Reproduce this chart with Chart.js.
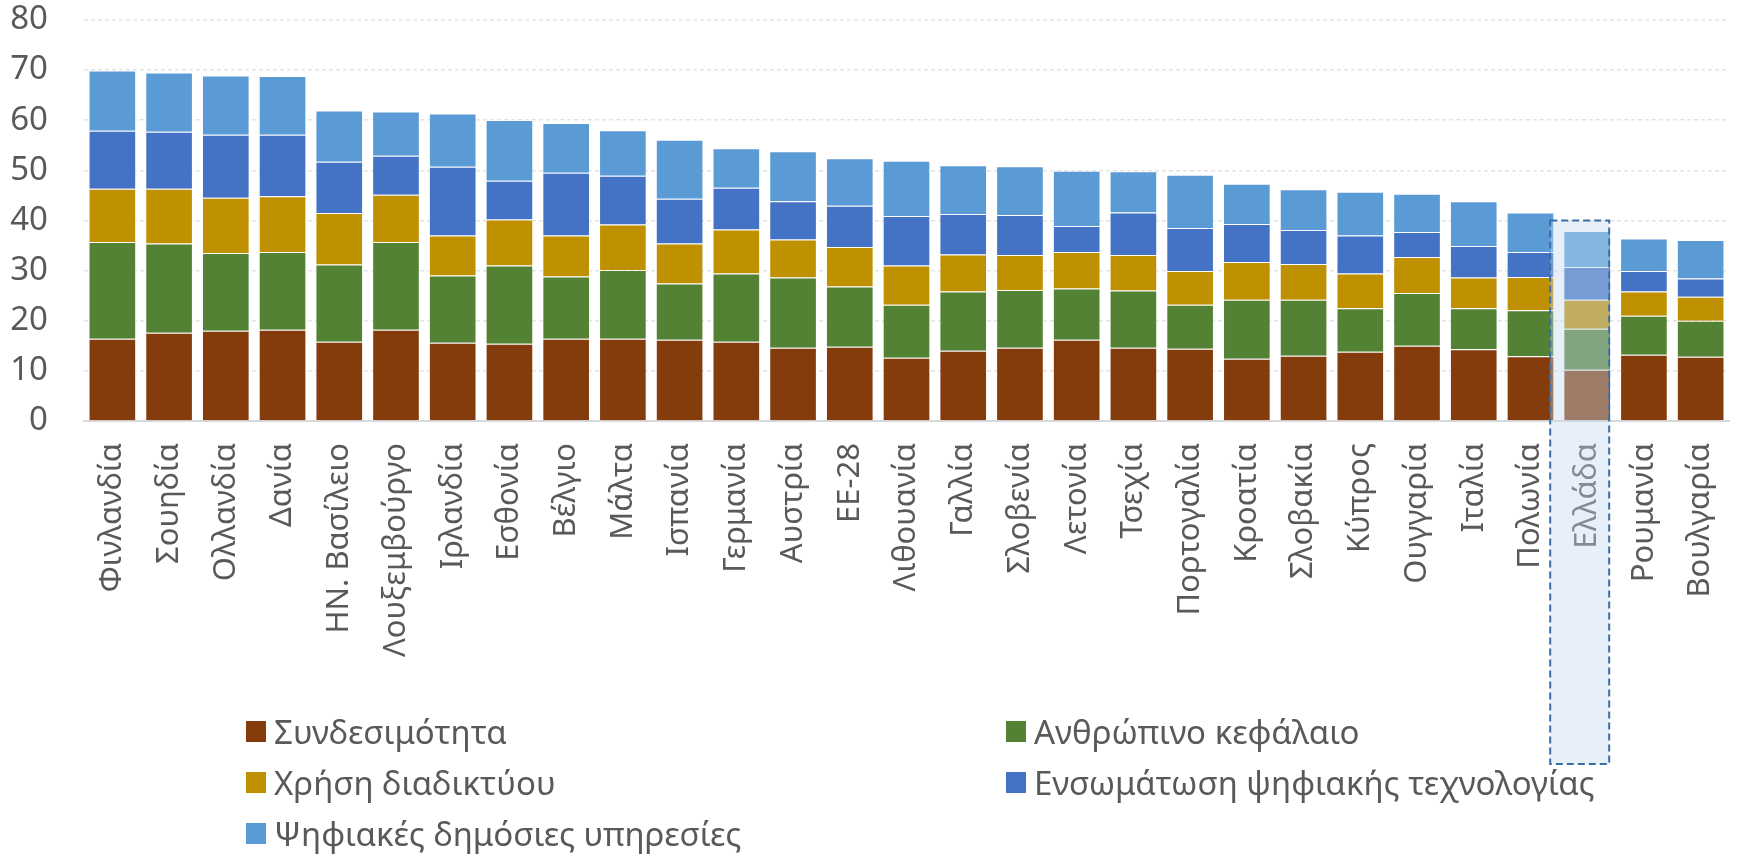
<!DOCTYPE html>
<html>
<head>
<meta charset="utf-8">
<script src="https://cdn.jsdelivr.net/npm/chart.js@4.4.1/dist/chart.umd.min.js"></script>
<style>
    html, body { margin: 0; padding: 0; background: #fff; }
    #wrap { position: relative; width: 1737px; height: 855px; overflow: hidden; }
    #chart { position: absolute; left: 0; top: -36px; }
    #legend {
        position: absolute; left: 246px; top: 712px;
        display: grid; grid-template-columns: 760px 640px; row-gap: 13px;
        font-family: "Noto Sans", "Open Sans", sans-serif;
        font-size: 33px; color: #595959;
    }
    .item { display: flex; align-items: center; height: 38px; white-space: nowrap; }
    .swatch { width: 20px; height: 21px; margin-right: 8px; }
</style>
</head>
<body>
<div id="wrap">
    <canvas id="chart" width="1760" height="891"></canvas>
    <div id="legend"></div>
</div>
<script>
// Countries, sorted by total DESI score
const countries = ['Φινλανδία', 'Σουηδία', 'Ολλανδία', 'Δανία', 'ΗΝ. Βασίλειο', 'Λουξεμβούργο', 'Ιρλανδία',
    'Εσθονία', 'Βέλγιο', 'Μάλτα', 'Ισπανία', 'Γερμανία', 'Αυστρία', 'ΕΕ-28', 'Λιθουανία', 'Γαλλία',
    'Σλοβενία', 'Λετονία', 'Τσεχία', 'Πορτογαλία', 'Κροατία', 'Σλοβακία', 'Κύπρος', 'Ουγγαρία',
    'Ιταλία', 'Πολωνία', 'Ελλάδα', 'Ρουμανία', 'Βουλγαρία'];

const connectivity = [16.4, 17.6, 18.0, 18.2, 15.8, 18.2, 15.6, 15.4, 16.4, 16.4, 16.2, 15.8, 14.6, 14.8, 12.6,
    14.0, 14.6, 16.2, 14.6, 14.4, 12.4, 13.0, 13.8, 15.0, 14.3, 12.9, 10.2, 13.2, 12.8];
const humanCapital = [19.3, 17.8, 15.5, 15.5, 15.4, 17.5, 13.4, 15.6, 12.4, 13.7, 11.2, 13.6, 14.0, 12.0, 10.6,
    11.8, 11.5, 10.2, 11.4, 8.8, 11.8, 11.2, 8.7, 10.5, 8.2, 9.2, 8.2, 7.8, 7.2];
const internetUse = [10.6, 10.9, 11.0, 11.1, 10.3, 9.4, 8.0, 9.2, 8.2, 9.1, 8.0, 8.8, 7.6, 7.9, 7.8,
    7.4, 7.0, 7.3, 7.1, 6.7, 7.5, 7.1, 6.9, 7.2, 6.1, 6.6, 5.8, 4.8, 4.8];
const techIntegration = [11.6, 11.4, 12.6, 12.3, 10.2, 7.8, 13.7, 7.7, 12.5, 9.7, 8.9, 8.3, 7.6, 8.2, 9.9,
    8.1, 8.0, 5.2, 8.5, 8.6, 7.6, 6.8, 7.6, 5.0, 6.3, 5.0, 6.5, 4.1, 3.6];
const publicServices = [12.0, 11.8, 11.8, 11.7, 10.2, 8.8, 10.6, 12.1, 9.9, 9.1, 11.8, 7.9, 10.0, 9.5, 11.0,
    9.7, 9.7, 11.0, 8.2, 10.6, 8.0, 8.1, 8.7, 7.6, 8.9, 7.9, 7.2, 6.5, 7.7];

const yTicks = [0, 10, 20, 30, 40, 50, 60, 70, 80];
const highlighted = 'Ελλάδα';

const seriesNames = ['Συνδεσιμότητα', 'Ανθρώπινο κεφάλαιο', 'Χρήση διαδικτύου',
    'Ενσωμάτωση ψηφιακής τεχνολογίας', 'Ψηφιακές δημόσιες υπηρεσίες'];
const seriesData = [connectivity, humanCapital, internetUse, techIntegration, publicServices];
const seriesColors = ['#843C0C', '#548235', '#BF9000', '#4472C4', '#5B9BD5'];

const TEXT = '#595959';

// Dashed, translucent frame around the highlighted country
const highlightBox = {
    id: 'highlightBox',
    afterDraw(chart) {
        const ctx = chart.ctx;
        const idx = countries.indexOf(highlighted);
        const xc = chart.scales.x.getPixelForValue(idx);
        const left = xc - 37;
        const width = 59;
        const top = chart.scales.y.getPixelForValue(40);
        const bottom = chart.chartArea.bottom + 343;
        ctx.save();
        ctx.fillStyle = 'rgba(195, 218, 240, 0.4)';
        ctx.fillRect(left, top, width, bottom - top);
        ctx.strokeStyle = '#3A6EA5';
        ctx.lineWidth = 2;
        ctx.setLineDash([7, 4]);
        ctx.strokeRect(left, top, width, bottom - top);
        ctx.restore();
    }
};

new Chart(document.getElementById('chart').getContext('2d'), {
    type: 'bar',
    data: {
        labels: countries,
        datasets: seriesNames.map((name, i) => ({
            label: name,
            data: seriesData[i],
            backgroundColor: seriesColors[i],
            borderColor: 'rgba(255,255,255,0.35)',
            borderWidth: 1,
            categoryPercentage: 1,
            barPercentage: 0.84
        }))
    },
    options: {
        responsive: false,
        animation: false,
        layout: { padding: { top: 2, right: 9, left: 0, bottom: 0 } },
        plugins: {
            legend: { display: false },
            tooltip: { enabled: false }
        },
        scales: {
            x: {
                stacked: true,
                grid: { display: false, drawTicks: false },
                border: { color: '#D9D9D9', width: 2 },
                ticks: {
                    color: TEXT,
                    font: { family: '"Noto Sans", "Open Sans", sans-serif', size: 31 },
                    minRotation: 90,
                    maxRotation: 90,
                    autoSkip: false,
                    padding: 22
                },
                afterFit: s => { s.height = 434; }
            },
            y: {
                stacked: true,
                min: 0,
                max: 80,
                afterBuildTicks: s => { s.ticks = yTicks.map(v => ({ value: v })); },
                grid: { color: '#E4E4E4', lineWidth: 1.5, drawTicks: false },
                border: { display: false, dash: [4, 3] },
                ticks: {
                    color: TEXT,
                    font: { family: '"Noto Sans", "Open Sans", sans-serif', size: 33 },
                    padding: 36
                },
                afterFit: s => { s.width = 84; }
            }
        }
    },
    plugins: [highlightBox]
});

// Two-column legend, same order as the datasets
const legend = document.getElementById('legend');
seriesNames.forEach((name, i) => {
    const item = document.createElement('div');
    item.className = 'item';
    item.innerHTML = `<span class="swatch" style="background:${seriesColors[i]}"></span><span>${name}</span>`;
    legend.appendChild(item);
});
</script>
</body>
</html>
